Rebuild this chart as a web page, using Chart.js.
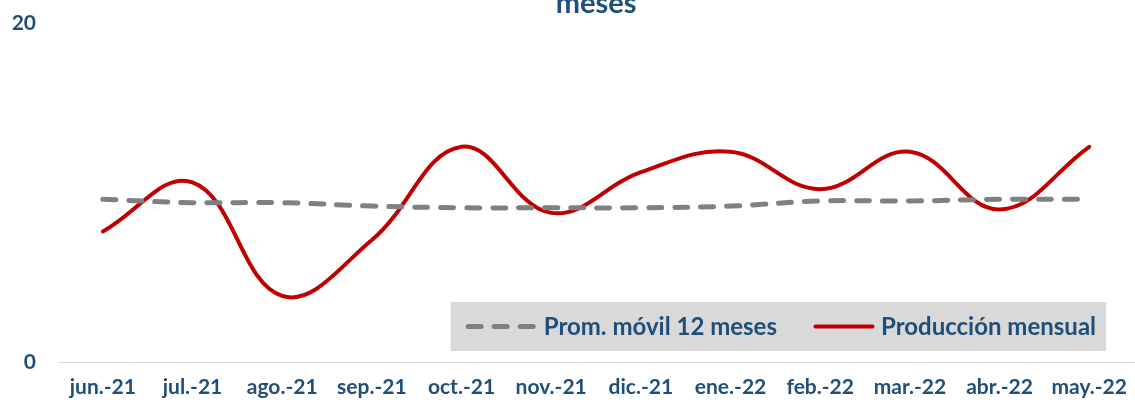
<!DOCTYPE html>
<html lang="es">
<head>
<meta charset="utf-8">
<title>Producción mensual</title>
<script src="https://cdn.jsdelivr.net/npm/chart.js@4.4.1/dist/chart.umd.min.js"></script>
<style>
  html, body { margin: 0; padding: 0; background: #ffffff; overflow: hidden; }
  #chart { display: block; }
</style>
</head>
<body>
<canvas id="chart" width="1140" height="404"></canvas>
<script>
// Meses del período
const meses = ['jun.-21', 'jul.-21', 'ago.-21', 'sep.-21', 'oct.-21', 'nov.-21',
               'dic.-21', 'ene.-22', 'feb.-22', 'mar.-22', 'abr.-22', 'may.-22'];

// Producción de cada mes
const produccionMensual = [7.7, 10.6, 3.9, 7.2, 12.7, 8.8, 11.2, 12.4, 10.2, 12.4, 9.0, 12.7];

// Promedio móvil de los últimos 12 meses
const promedioMovil = [9.6, 9.4, 9.4, 9.2, 9.1, 9.1, 9.1, 9.2, 9.5, 9.5, 9.6, 9.6];

// Marcas del eje vertical
const ejeY = { min: 0, max: 20, paso: 20 };

// Última línea del título (la parte superior queda fuera del lienzo)
const titulo = 'meses';

const AZUL = '#1F4E79';
const FUENTE = 'Lato, "Open Sans", sans-serif';

// Título centrado sobre el área del gráfico
const tituloArea = {
  id: 'tituloArea',
  afterDraw(chart) {
    const { ctx, chartArea } = chart;
    ctx.save();
    ctx.font = `bold 29px ${FUENTE}`;
    ctx.fillStyle = AZUL;
    ctx.textAlign = 'center';
    ctx.textBaseline = 'alphabetic';
    ctx.fillText(titulo, (chartArea.left + chartArea.right) / 2, 13);
    ctx.restore();
  }
};

// Leyenda en recuadro gris dentro del área del gráfico
const leyendaRecuadro = {
  id: 'leyendaRecuadro',
  afterDraw(chart) {
    const { ctx, chartArea } = chart;
    ctx.save();
    ctx.font = `bold 24px ${FUENTE}`;
    const items = chart.data.datasets.map(ds => ({
      label: ds.label,
      color: ds.borderColor,
      width: ds.borderWidth,
      dash: ds.borderDash || [],
      sample: ds.borderDash ? 70 : 62,
      gap: ds.borderDash ? 8 : 6,
      textW: ctx.measureText(ds.label).width
    }));
    const padL = 15, padR = 10, gapItem = 36;
    let contentW = 0;
    items.forEach((it, i) => {
      contentW += it.sample + it.gap + it.textW + (i < items.length - 1 ? gapItem : 0);
    });
    const w = padL + contentW + padR;
    const right = chartArea.right - 28;
    const left = right - w;
    const bottom = chartArea.bottom - 11;
    const top = bottom - 49;
    ctx.fillStyle = '#D9D9D9';
    ctx.fillRect(left, top, w, bottom - top);

    const cy = (top + bottom) / 2;
    let x = left + padL;
    items.forEach(it => {
      ctx.beginPath();
      ctx.strokeStyle = it.color;
      ctx.lineWidth = it.width;
      ctx.lineCap = 'round';
      ctx.setLineDash(it.dash);
      ctx.moveTo(x + 2.5, cy);
      ctx.lineTo(x + it.sample - 2.5, cy);
      ctx.stroke();
      ctx.setLineDash([]);
      x += it.sample + it.gap;
      ctx.fillStyle = AZUL;
      ctx.textBaseline = 'middle';
      ctx.textAlign = 'left';
      ctx.fillText(it.label, x, cy + 1);
      x += it.textW + gapItem;
    });
    ctx.restore();
  }
};

new Chart(document.getElementById('chart'), {
  type: 'line',
  data: {
    labels: meses,
    datasets: [
      {
        label: 'Prom. móvil 12 meses',
        data: promedioMovil,
        borderColor: '#808080',
        borderWidth: 5,
        borderDash: [13, 13],
        borderCapStyle: 'round',
        tension: 0.4,
        pointRadius: 0,
        fill: false
      },
      {
        label: 'Producción mensual',
        data: produccionMensual,
        borderColor: '#C00000',
        borderWidth: 4,
        borderCapStyle: 'round',
        tension: 0.4,
        pointRadius: 0,
        fill: false
      }
    ]
  },
  options: {
    responsive: false,
    animation: false,
    devicePixelRatio: 1,
    layout: { padding: { left: 0, right: 2, top: 22, bottom: 4 } },
    plugins: {
      legend: { display: false },
      tooltip: { enabled: false },
      title: { display: false }
    },
    scales: {
      x: {
        offset: true,
        grid: { display: false, drawTicks: false },
        border: { display: true, color: '#D9D9D9', width: 1 },
        ticks: {
          color: AZUL,
          font: { family: FUENTE, size: 21, weight: 'bold', lineHeight: 1.2 },
          padding: 13,
          maxRotation: 0,
          autoSkip: false
        },
        afterFit(scale) { scale.height = 38; }
      },
      y: {
        min: ejeY.min,
        max: ejeY.max,
        grid: { display: false, drawTicks: false },
        border: { display: false },
        ticks: {
          stepSize: ejeY.paso,
          color: AZUL,
          font: { family: FUENTE, size: 21, weight: 'bold', lineHeight: 0.1 },
          padding: 22
        },
        afterFit(scale) { scale.width = 58; }
      }
    }
  },
  plugins: [tituloArea, leyendaRecuadro]
});
</script>
</body>
</html>
